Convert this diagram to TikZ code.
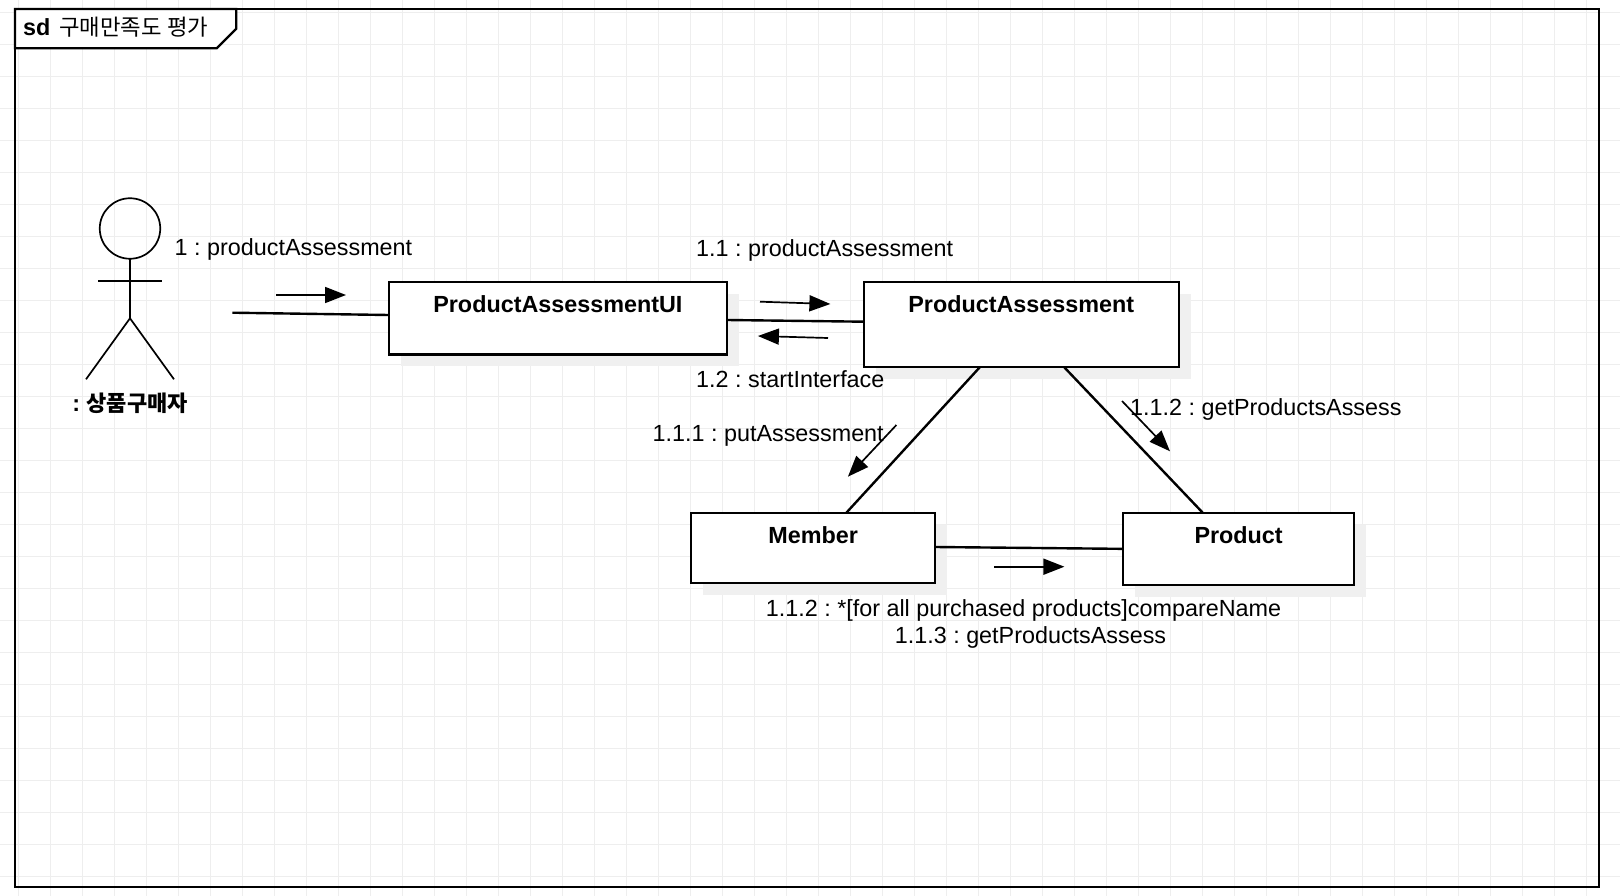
\documentclass[tikz,border=0pt]{standalone}
\usepackage{fontspec}
\setmainfont{Liberation Sans}
\newfontfamily\korean{Noto Sans CJK KR}
\usetikzlibrary{arrows.meta,shadows}
\definecolor{gridgray}{HTML}{EEEEEE}
\definecolor{shadowgray}{HTML}{F0F0F0}
\newcommand{\msgsize}{\frenchspacing\fontsize{23.35pt}{28pt}\selectfont}
\begin{document}
\begin{tikzpicture}[x=1pt,y=-1pt,node distance=100pt]
    \tikzstyle{gridline} = [gridgray, line width=1.2pt]
    \tikzstyle{outline} = [black, line width=2.2pt]
    \tikzstyle{link} = [black, line width=2.4pt]
    \tikzstyle{limb} = [black, line width=1.7pt]
    \tikzstyle{arrow} = [black, line width=1.7pt, -{Triangle[length=21pt, width=16pt]}]
    \tikzstyle{box} = [rectangle, draw = black, line width=2.2pt, fill = white, inner sep=0pt, outer sep=0pt, font=\msgsize\bfseries, text height=30.5pt, drop shadow={shadow xshift=12pt, shadow yshift=-12pt, fill=shadowgray, opacity=1}]
    \tikzstyle{msg} = [anchor=base west, inner sep=0pt, font=\msgsize]
    \useasboundingbox (0,0) rectangle (1620,896);

    \foreach \gx in {0,...,49} \draw[gridline] (18.67+32*\gx,0) -- (18.67+32*\gx,896);
    \foreach \gy in {0,...,27} \draw[gridline] (0,12.33+32*\gy) -- (1620,12.33+32*\gy);

    \node[outline, draw, inner sep=0pt, outer sep=0pt, minimum width=1584pt, minimum height=878pt](Frame) at (807,448){};
    \coordinate (TabA) at (236.3,9);
    \coordinate (TabB) at (236.3,28.7);
    \coordinate (TabC) at (216.7,48.3);
    \coordinate (TabD) at (15,48.3);
    \draw[outline, fill=white] (Frame.north west) -- (TabA) -- (TabB) -- (TabC) -- (TabD) -- cycle;
    \node[msg](Title) at (23,36){\textbf{sd}\hspace{9pt}{\korean\fontsize{22.3pt}{28pt}\selectfont 구매만족도 평가}};

    \node[limb, draw, circle, inner sep=0pt, outer sep=0pt, minimum size=60.5pt](Head) at (130,228.5){};
    \coordinate (Hip) at (130,318.3);
    \coordinate (ArmL) at (98.3,281);
    \coordinate (ArmR) at (161.7,281);
    \coordinate (FootL) at (86,379.3);
    \coordinate (FootR) at (174,379.3);
    \draw[limb] (Head.south) -- (Hip);
    \draw[limb] (ArmL) -- (ArmR);
    \draw[limb] (Hip) -- (FootL);
    \draw[limb] (Hip) -- (FootR);
    \node[inner sep=0pt, font=\msgsize\bfseries](Buyer) at (130,403){: {\korean\fontsize{22pt}{28pt}\selectfont 상품구매자}};

    \node[box, minimum width=338.6pt, minimum height=72.4pt, text depth=41.9pt](UI) at (557.9,318.2){ProductAssessmentUI};
    \node[box, minimum width=314.7pt, minimum height=85pt, text depth=54.5pt, right of = UI, xshift = 363.35pt, yshift = -6.3pt](PA){ProductAssessment};
    \node[box, minimum width=244pt, minimum height=70.3pt, text depth=39.8pt, below of = PA, xshift = -208.15pt, yshift = -123.35pt](Member){Member};
    \node[box, minimum width=231.2pt, minimum height=72.3pt, text depth=41.8pt, right of = Member, xshift = 325.5pt, yshift = -1pt](Product){Product};

    \coordinate (ActorEnd) at (232.3,312.7);
    \draw[link] (ActorEnd) -- ([yshift=3.2pt]UI.west);
    \draw[link] ([yshift=-1.8pt]UI.east) -- ([yshift=2.8pt]PA.west);
    \draw[link] ([xshift=-41.25pt]PA.south) -- ([xshift=33.3pt]Member.north);
    \draw[link] ([xshift=42.75pt]PA.south) -- ([xshift=-35.9pt]Product.north);
    \draw[link] ([yshift=0.85pt]Member.east) -- (Product.west);

    \coordinate (A1s) at (276,295);
    \coordinate (A1e) at (346,295);
    \coordinate (A2s) at (760,301.7);
    \coordinate (A2e) at (830.4,304);
    \coordinate (A3s) at (828,338);
    \coordinate (A3e) at (757.9,336);
    \coordinate (A4s) at (896.4,425);
    \coordinate (A4e) at (847.9,476.7);
    \coordinate (A5s) at (1122,401);
    \coordinate (A5e) at (1170,451.3);
    \coordinate (A6s) at (994,566.7);
    \coordinate (A6e) at (1064.4,566.7);
    \draw[arrow] (A1s) -- (A1e);
    \draw[arrow] (A2s) -- (A2e);
    \draw[arrow] (A3s) -- (A3e);
    \draw[arrow] (A4s) -- (A4e);
    \draw[arrow] (A5s) -- (A5e);
    \draw[arrow] (A6s) -- (A6e);

    \node[msg](M1) at (174.5,255){1 : productAssessment};
    \node[msg](M11) at (696,256){1.1 : productAssessment};
    \node[msg](M12) at (696,387.7){1.2 : startInterface};
    \node[msg](M111) at (652.5,441.7){1.1.1 : putAssessment};
    \node[msg](M112) at (1130,415){1.1.2 : getProductsAssess};
    \node[msg, anchor=base](M112b) at (1023.5,616){1.1.2 : *[for all purchased products]compareName};
    \node[msg, anchor=base](M113) at (1030.5,643.7){1.1.3 : getProductsAssess};
\end{tikzpicture}
\end{document}
